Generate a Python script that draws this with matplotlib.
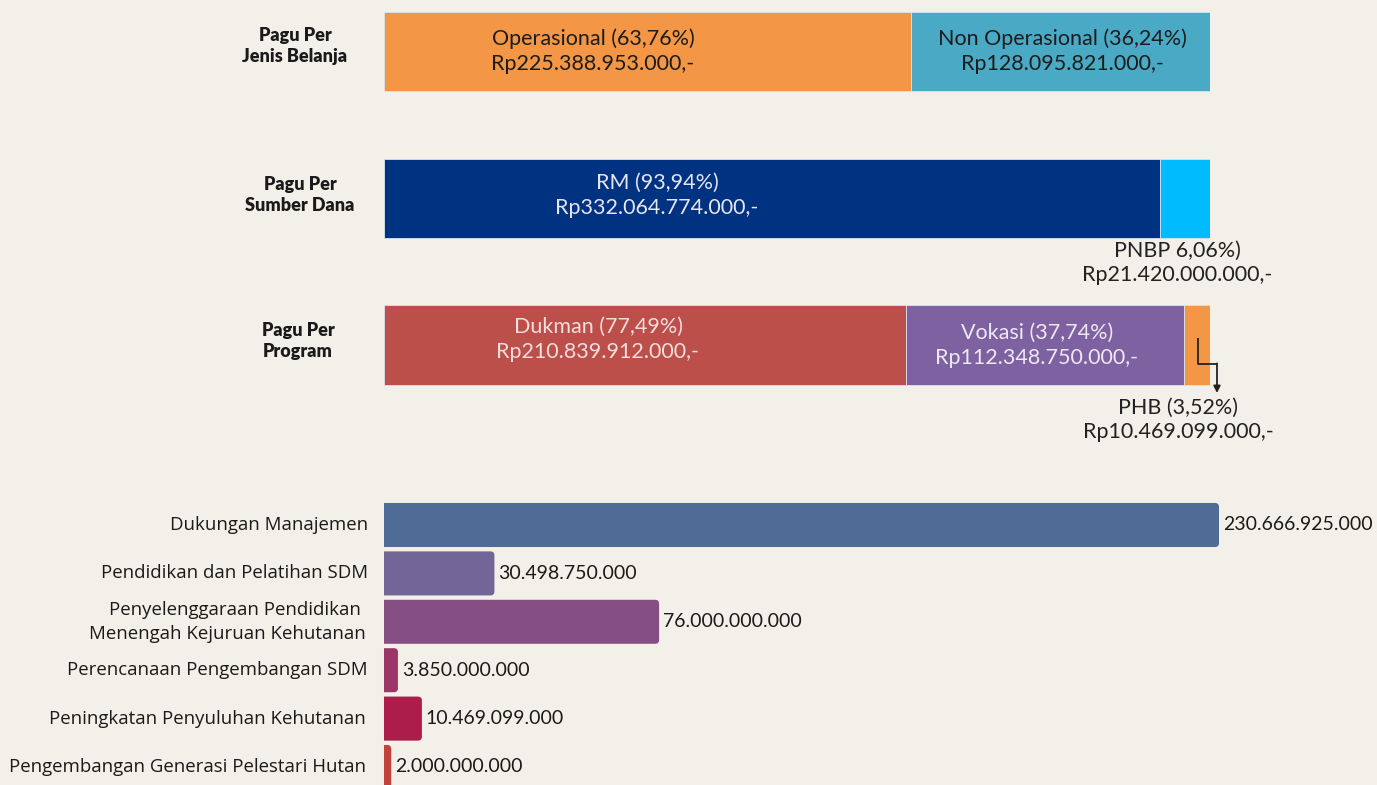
import matplotlib
matplotlib.use("Agg")
import matplotlib.pyplot as plt
from matplotlib.patches import FancyBboxPatch

# ---------------- data ----------------
jenis_labels = ["Operasional (63,76%)", "Non Operasional (36,24%)"]
jenis_values = [225388953000, 128095821000]
jenis_rp = ["Rp225.388.953.000,-", "Rp128.095.821.000,-"]

dana_labels = ["RM (93,94%)", "PNBP 6,06%)"]
dana_values = [332064774000, 21420000000]
dana_rp = ["Rp332.064.774.000,-", "Rp21.420.000.000,-"]

prog_labels = ["Dukman (77,49%)", "Vokasi (37,74%)", "PHB (3,52%)"]
prog_values = [210839912000, 112348750000, 10469099000]
prog_rp = ["Rp210.839.912.000,-", "Rp112.348.750.000,-", "Rp10.469.099.000,-"]

row_titles = ["Pagu Per\nJenis Belanja", "Pagu Per\nSumber Dana", "Pagu Per\nProgram"]

kegiatan = ["Dukungan Manajemen", "Pendidikan dan Pelatihan SDM",
            "Penyelenggaraan Pendidikan \nMenengah Kejuruan Kehutanan",
            "Perencanaan Pengembangan SDM", "Peningkatan Penyuluhan Kehutanan",
            "Pengembangan Generasi Pelestari Hutan"]
kegiatan_values = [230666925000, 30498750000, 76000000000, 3850000000,
                   10469099000, 2000000000]
kegiatan_labels = ["230.666.925.000", "30.498.750.000", "76.000.000.000",
                   "3.850.000.000", "10.469.099.000", "2.000.000.000"]

# ---------------- style ----------------
BG = "#f3f0e9"
W, H = 1377, 785
fig = plt.figure(figsize=(W / 100, H / 100), dpi=100, facecolor=BG)

def px_axes(x0, y0, x1, y1):
    return fig.add_axes([x0 / W, 1 - y1 / H, (x1 - x0) / W, (y1 - y0) / H])

TOPFONT = "Lato"

# ---------------- top stacked bars ----------------
ax = px_axes(384, 0, 1210, 450)
ax.set_facecolor("none")
pitch = 146.75
ax.set_xlim(0, 1)
ax.set_ylim((450 - 51.5) / pitch, (0 - 51.5) / pitch)
ax.axis("off")

rows = [
    (jenis_values, ["#f39646", "#4aaac5"]),
    (dana_values, ["#003282", "#00bbfd"]),
    (prog_values, ["#bd4f4b", "#7e61a0", "#f39646"]),
]
bar_h = 0.54
for r, (vals, cols) in enumerate(rows):
    tot = sum(vals)
    left = 0
    for v, c in zip(vals, cols):
        ax.barh(r, v / tot, left=left, height=bar_h, color=c,
                edgecolor="#d9e3ee", linewidth=0.6)
        left += v / tot

def two_lines(x, y, l1, l2, color, size=15.5, gap=0.17):
    ax.text(x, y - gap / 2, l1, ha="center", va="center", color=color,
            fontsize=size, family=TOPFONT)
    ax.text(x, y + gap / 2, l2, ha="center", va="center", color=color,
            fontsize=size, family=TOPFONT)

def fx(px):
    return (px - 384) / 826

def fy(px):
    return (px - 51.5) / pitch

# row 0
two_lines(fx(593), fy(51.5), jenis_labels[0], jenis_rp[0], "#1c1c1c")
two_lines(fx(1062), fy(51.5), jenis_labels[1], jenis_rp[1], "#1c1c1c")
# row 1
two_lines(fx(657), fy(195.5), dana_labels[0], dana_rp[0], "#e6e6ee")
two_lines(fx(1177), fy(263), dana_labels[1], dana_rp[1], "#222222")
# row 2
two_lines(fx(598), fy(339.5), prog_labels[0], prog_rp[0], "#f2dede")
two_lines(fx(1037), fy(345.5), prog_labels[1], prog_rp[1], "#eee8f4")
two_lines(fx(1178), fy(420), prog_labels[2], prog_rp[2], "#222222")

# PHB connector arrow
ax.plot([fx(1198), fx(1198), fx(1217)], [fy(338), fy(364), fy(364)],
        color="#222222", lw=1.3, clip_on=False, solid_capstyle="butt")
ax.annotate("", xy=(fx(1217), fy(393)), xytext=(fx(1217), fy(363.4)),
            arrowprops=dict(arrowstyle="-|>", color="#222222", lw=1.3,
                            mutation_scale=10, shrinkA=0, shrinkB=0),
            annotation_clip=False)

# row titles
title_x = [295, 300, 298]
title_y = [46, 195, 341]
for t, x, y in zip(row_titles, title_x, title_y):
    ax.text(fx(x), fy(y), t, ha="center", va="center", fontsize=13,
            fontweight="heavy", family=TOPFONT, color="#1a1a1a",
            linespacing=1.35)

# ---------------- bottom horizontal bars ----------------
axb = px_axes(384, 490, 1377, 785)
axb.set_facecolor("none")
bpitch = 48.4
xmax = kegiatan_values[0] * (1377 - 384) / (1219 - 384)
axb.set_xlim(0, xmax)
axb.set_ylim((785 - 525) / bpitch, (490 - 525) / bpitch)
axb.axis("off")

bcolors = ["#4f6c97", "#726597", "#864f83", "#9c3669", "#ad1d4b", "#c0433d"]
bars = axb.barh(range(len(kegiatan_values)), kegiatan_values, height=0.91,
                color=bcolors)
xpx = xmax / (1377 - 384)
ypx = 1 / bpitch
rad = 4
for b in bars:
    x0, y0, w, h = b.get_x(), b.get_y(), b.get_width(), b.get_height()
    b.set_visible(False)
    p = FancyBboxPatch((x0 - rad * xpx, y0), w + rad * xpx, h,
                       boxstyle=f"round,pad=0,rounding_size={rad * xpx}",
                       mutation_aspect=ypx / xpx,
                       facecolor=b.get_facecolor(), edgecolor="none")
    axb.add_patch(p)

for i, (v, lab) in enumerate(zip(kegiatan_values, kegiatan_labels)):
    axb.annotate(lab, (v, i), xytext=(4, 0), textcoords="offset pixels",
                 ha="left", va="center", fontsize=14, family="Lato",
                 color="#1a1a1a", annotation_clip=False)

lab_dx = [-16, -16, -18, -16, -18, -18]
for i, (k, dx) in enumerate(zip(kegiatan, lab_dx)):
    axb.annotate(k, (0, i), xytext=(dx, 0), textcoords="offset pixels",
                 ha="right", va="center", fontsize=13.4, family="Open Sans",
                 color="#1a1a1a", linespacing=1.45, annotation_clip=False)

fig.savefig("out.png", dpi=100, facecolor=BG)
